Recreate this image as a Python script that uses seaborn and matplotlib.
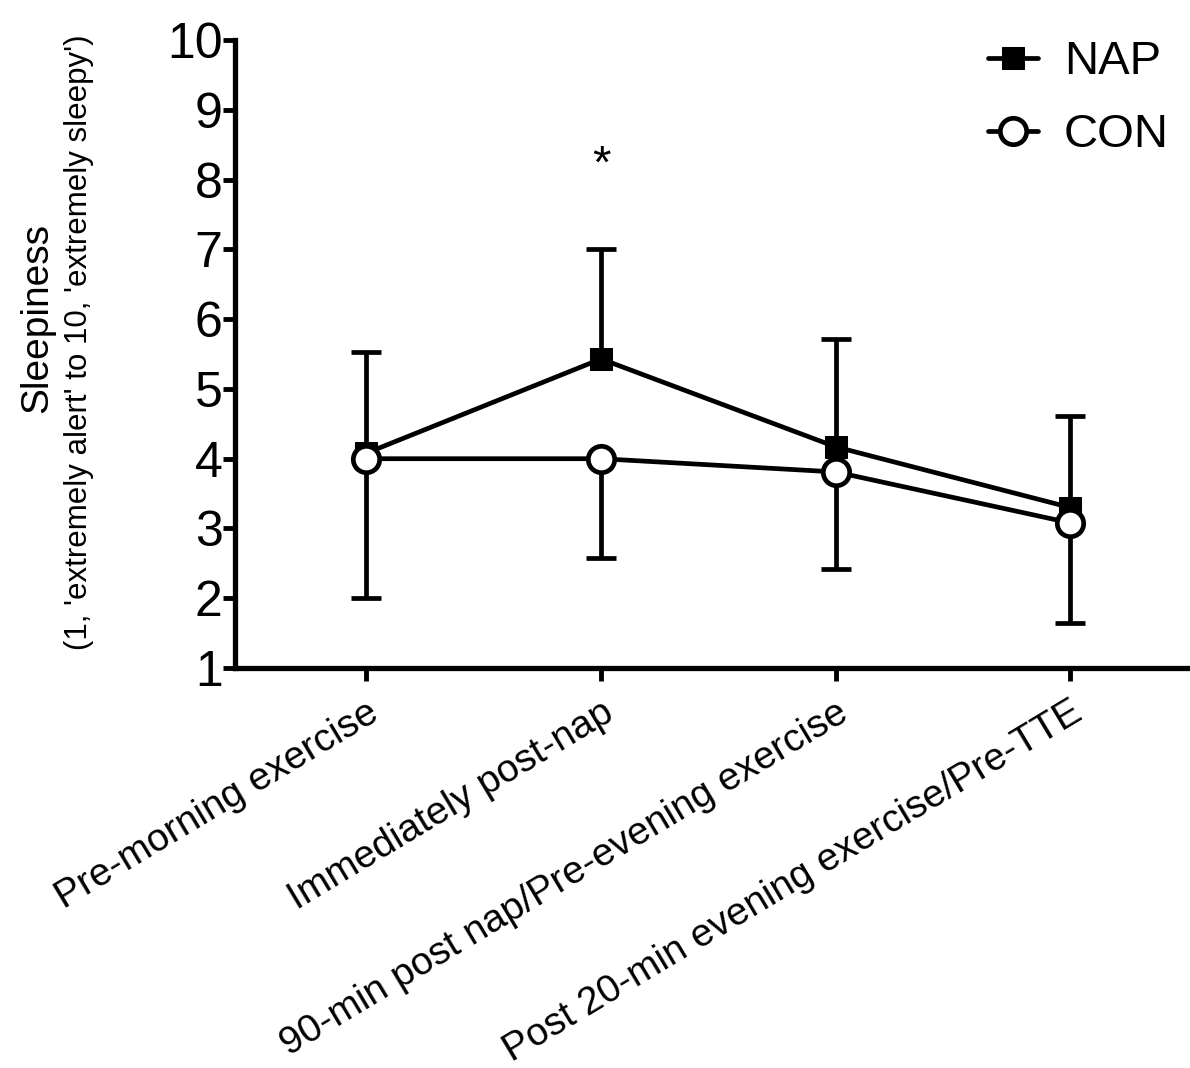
import numpy as np
import pandas as pd
import seaborn as sns
from matplotlib import pyplot as plt

# 数据
timepoints = ["Pre-morning exercise", "Immediately post-nap",
              "90-min post nap/Pre-evening exercise",
              "Post 20-min evening exercise/Pre-TTE"]
nap_mean = [4.08, 5.43, 4.17, 3.30]
nap_sd = [1.45, 1.58, 1.54, 1.31]
con_mean = [4.00, 4.00, 3.81, 3.08]
con_sd = [2.00, 1.42, 1.39, 1.44]
y_ticks = [1, 2, 3, 4, 5, 6, 7, 8, 9, 10]
sig_idx = 1
sig_y = 8.2

sns.set_style("ticks")
plt.rcParams['font.family'] = ['Liberation Sans', 'DejaVu Sans']
for k in ['text.color', 'xtick.color', 'ytick.color', 'axes.labelcolor', 'axes.edgecolor']:
    plt.rcParams[k] = 'black'

df = pd.DataFrame({
    "pos": np.arange(len(timepoints)),
    "NAP": nap_mean,
    "CON": con_mean,
})

fig = plt.figure(figsize=(11.9, 10.68), dpi=100)
ax = fig.add_axes([0.1975, 0.3745, 0.8005, 0.588])

lw = 3.4


def one_sided_err(ax, x, y, err, up, z):
    y = np.asarray(y)
    yerr = [np.zeros_like(y), err] if up else [err, np.zeros_like(y)]
    eb = ax.errorbar(x, y, yerr=yerr, fmt='none', ecolor='black',
                     elinewidth=lw, capsize=11, capthick=lw, zorder=z)
    # 去掉贴在均值上的那条帽线
    for cl in eb[1]:
        if np.allclose(cl.get_ydata(), y):
            cl.remove()


# NAP
one_sided_err(ax, df["pos"], df["NAP"], nap_sd, True, 2)
sns.lineplot(data=df, x="pos", y="NAP", ax=ax, color='black', lw=lw,
             marker='s', markersize=16, markerfacecolor='black',
             markeredgecolor='black', label="NAP", zorder=3)

# CON
one_sided_err(ax, df["pos"], df["CON"], con_sd, False, 4)
sns.lineplot(data=df, x="pos", y="CON", ax=ax, color='black', lw=lw,
             marker='o', markersize=19, markerfacecolor='white',
             markeredgecolor='black', markeredgewidth=3.4, label="CON", zorder=5)

ax.text(sig_idx, sig_y, "*", ha='center', va='center', fontsize=34)

ax.set_xlim(-0.56, 3.5)
ax.set_ylim(1, 10)
ax.set_yticks(y_ticks)
ax.set_xticks(df["pos"])
ax.set_xticklabels(timepoints, rotation=31, ha='right', rotation_mode='anchor',
                   fontsize=28)
ax.tick_params(axis='y', labelsize=36, width=3.5, length=9, pad=0)
ax.tick_params(axis='x', width=3.5, length=9, pad=10)
ax.set_xlabel("")
ax.set_ylabel("")
for s in ['top', 'right']:
    ax.spines[s].set_visible(False)
for s in ['left', 'bottom']:
    ax.spines[s].set_linewidth(3.8)

leg = ax.legend(loc='upper right', frameon=False, fontsize=34,
                handlelength=1.05, handletextpad=0.55, labelspacing=0.62,
                borderaxespad=0.0, bbox_to_anchor=(1.0, 1.03))

fig.text(0.031, 0.702, "Sleepiness", rotation=90, ha='center', va='center',
         fontsize=28)
fig.text(0.066, 0.68, "(1, 'extremely alert' to 10, 'extremely sleepy')",
         rotation=90, ha='center', va='center', fontsize=22.5)

plt.savefig("out.png", dpi=100)
